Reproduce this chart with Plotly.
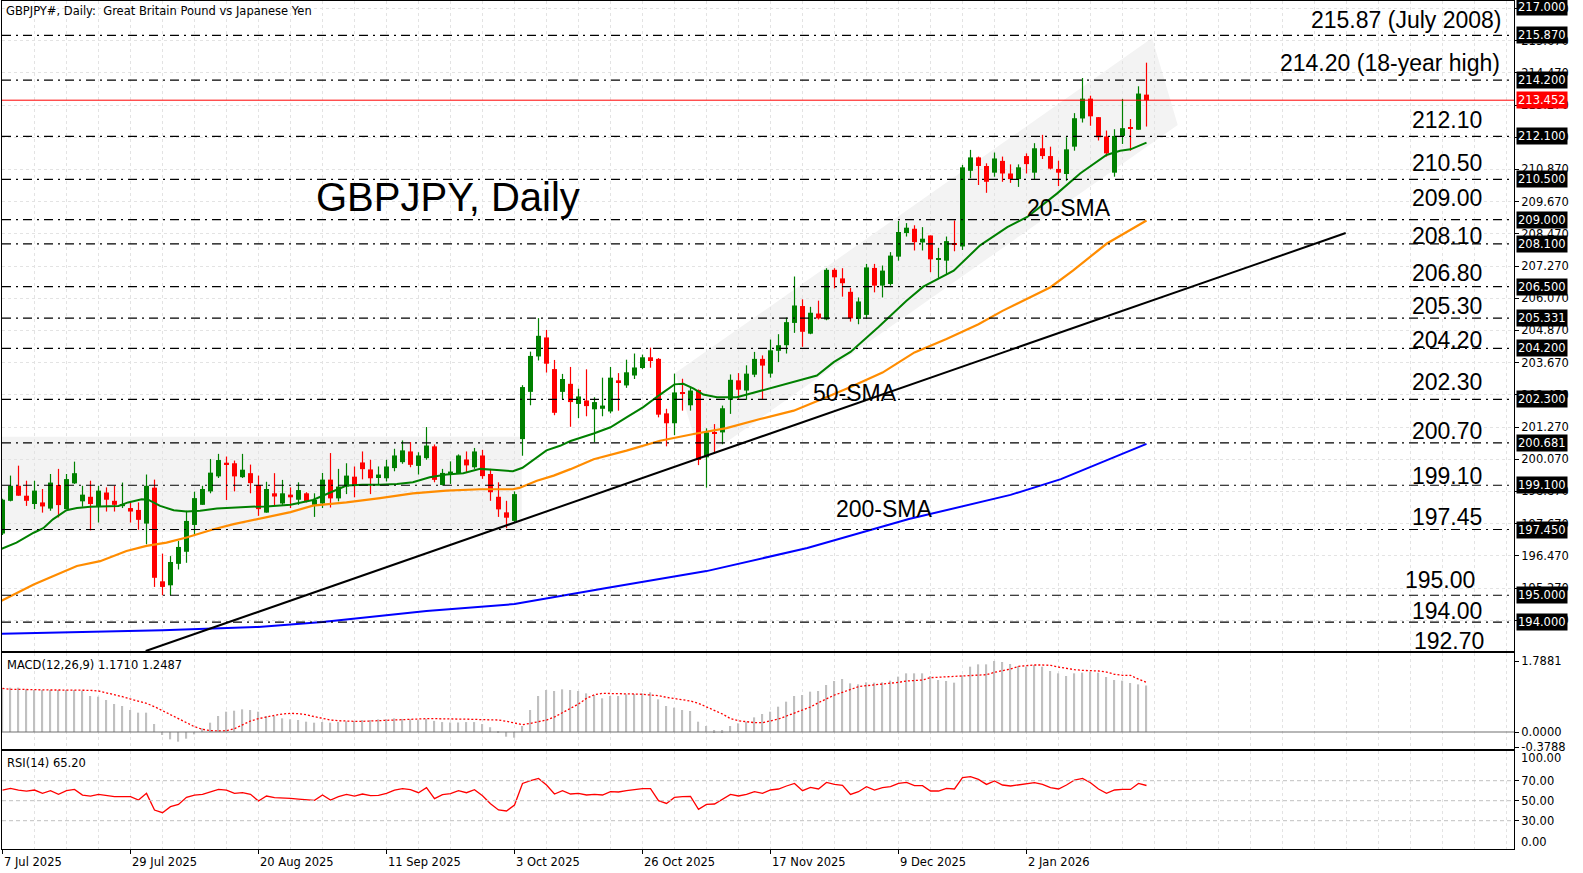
import plotly.graph_objects as go

# ---------------- data ----------------
date_labels = ["7 Jul 2025", "29 Jul 2025", "20 Aug 2025", "11 Sep 2025", "3 Oct 2025",
               "26 Oct 2025", "17 Nov 2025", "9 Dec 2025", "2 Jan 2026"]
date_label_bars = [0, 16, 32, 48, 64, 80, 96, 112, 128]

opens = [197.30, 198.52, 199.08, 198.71, 198.40, 198.46, 198.23, 199.11, 198.21, 199.17,
         198.50, 198.67, 198.30, 198.83, 198.52, 198.32, 198.25, 198.18, 197.67, 199.01,
         195.52, 195.37, 196.17, 196.62, 197.62, 198.37, 198.87, 199.43, 199.94, 199.92,
         199.40, 199.55, 199.11, 198.08, 198.80, 198.42, 198.75, 198.56, 198.80, 198.37,
         198.42, 199.31, 198.61, 199.05, 199.42, 199.95, 199.69, 199.37, 199.36, 199.74,
         199.96, 200.36, 199.82, 200.11, 200.55, 199.11, 199.52, 199.55, 200.06, 199.77,
         200.21, 199.52, 198.67, 198.09, 197.77, 200.82, 202.58, 203.90, 204.61, 203.43,
         202.58, 202.88, 202.13, 202.26, 201.93, 201.95, 201.85, 203.01, 202.82, 203.19,
         203.47, 203.87, 203.81, 201.78, 201.41, 202.56, 202.08, 202.65, 200.14, 201.08,
         201.07, 202.28, 203.01, 202.63, 203.22, 203.81, 203.26, 204.11, 204.32, 205.15,
         205.78, 204.75, 205.50, 205.28, 207.13, 206.81, 206.31, 205.30, 205.45, 207.20,
         206.54, 206.60, 207.62, 208.50, 208.66, 208.15, 208.41, 207.52, 207.47, 208.12,
         208.00, 210.82, 211.32, 211.00, 210.75, 211.19, 210.72, 210.51, 211.37, 210.75,
         211.66, 211.37, 210.89, 210.70, 211.72, 212.77, 213.51, 212.82, 212.10, 210.75,
         212.12, 212.41, 212.35, 213.66]
highs = [198.60, 199.46, 199.83, 199.27, 199.27, 198.96, 199.52, 199.71, 199.52, 199.98,
         199.08, 199.27, 199.08, 199.02, 199.08, 199.20, 198.46, 198.46, 199.50, 199.31,
         196.55, 196.46, 197.02, 198.15, 198.86, 199.08, 200.08, 200.27, 200.17, 200.02,
         200.27, 199.87, 199.46, 199.23, 199.55, 199.30, 199.02, 199.21, 198.84, 198.80,
         199.56, 200.30, 199.71, 199.92, 199.80, 200.36, 200.05, 199.80, 200.05, 200.46,
         200.77, 200.71, 200.33, 201.27, 200.62, 199.71, 199.99, 200.25, 200.36, 200.49,
         200.42, 199.71, 199.21, 198.52, 198.87, 202.83, 204.08, 205.33, 204.89, 203.77,
         203.25, 203.51, 202.70, 203.42, 202.38, 203.11, 203.51, 203.28, 203.78, 204.01,
         203.97, 204.23, 203.84, 201.95, 203.26, 203.07, 202.73, 202.67, 201.22, 201.38,
         202.07, 203.23, 203.28, 203.57, 204.07, 203.94, 204.53, 204.73, 205.35, 206.88,
         206.03, 205.75, 205.98, 207.19, 207.19, 207.19, 206.45, 206.10, 207.35, 207.35,
         207.29, 207.79, 208.95, 208.87, 208.79, 208.72, 208.41, 207.95, 208.37, 208.97,
         211.04, 211.60, 211.35, 211.10, 211.50, 211.35, 211.06, 211.06, 211.47, 211.85,
         212.16, 211.72, 211.20, 212.07, 212.97, 214.28, 213.62, 212.82, 212.32, 212.37,
         213.50, 212.75, 213.97, 214.85]
lows = [197.25, 198.50, 198.71, 198.33, 198.21, 198.08, 198.15, 197.90, 198.21, 199.15,
        198.30, 197.42, 197.71, 198.12, 198.12, 198.25, 197.71, 197.44, 196.90, 195.31,
        195.00, 195.00, 195.96, 196.21, 197.27, 198.37, 198.80, 199.37, 198.55, 198.87,
        199.37, 198.80, 197.96, 198.08, 198.33, 198.37, 198.25, 198.37, 198.46, 197.92,
        198.25, 198.27, 198.50, 198.77, 198.65, 199.32, 198.77, 199.11, 199.24, 199.62,
        199.90, 199.77, 199.50, 200.05, 199.21, 199.09, 199.15, 199.52, 199.59, 199.71,
        199.34, 198.52, 197.92, 197.50, 197.71, 200.20, 202.08, 203.75, 203.30, 201.71,
        202.30, 201.28, 201.60, 201.67, 200.70, 201.67, 201.78, 201.88, 202.73, 203.06,
        203.43, 203.48, 201.63, 200.55, 200.97, 201.88, 201.88, 199.85, 199.01, 200.31,
        200.63, 201.76, 202.28, 202.28, 203.13, 202.28, 203.11, 203.69, 204.01, 204.78,
        204.26, 204.73, 205.28, 205.25, 206.44, 206.13, 205.20, 205.10, 205.30, 206.29,
        206.10, 206.54, 207.47, 208.37, 207.85, 207.85, 207.04, 206.83, 206.97, 207.82,
        207.87, 210.54, 210.29, 210.00, 210.60, 210.41, 210.37, 210.22, 210.72, 210.50,
        211.26, 210.87, 210.25, 210.45, 211.57, 212.62, 212.50, 211.95, 211.35, 210.60,
        211.82, 211.57, 212.35, 212.47]
closes = [198.56, 199.08, 198.71, 198.52, 198.90, 198.31, 199.20, 198.36, 199.33, 199.55,
          198.75, 198.40, 198.90, 198.56, 198.37, 198.40, 198.12, 197.81, 199.08, 195.65,
          195.31, 196.24, 196.80, 197.77, 198.62, 198.96, 199.57, 200.04, 199.88, 199.43,
          199.68, 199.18, 198.21, 198.96, 198.68, 198.80, 198.65, 198.92, 198.50, 198.55,
          199.31, 198.61, 199.05, 199.46, 199.12, 199.70, 199.36, 199.50, 199.80, 200.21,
          200.40, 199.86, 200.21, 200.58, 199.30, 199.56, 199.61, 200.21, 199.84, 200.36,
          199.44, 198.84, 198.20, 197.89, 198.77, 202.76, 203.92, 204.67, 203.63, 201.80,
          203.06, 202.20, 202.41, 202.05, 202.20, 202.07, 203.11, 202.91, 203.31, 203.49,
          203.87, 203.73, 201.73, 201.41, 202.56, 202.51, 202.63, 200.04, 201.07, 201.03,
          201.97, 203.03, 202.66, 203.26, 203.81, 203.56, 204.13, 204.32, 205.18, 205.80,
          204.82, 205.53, 205.32, 207.13, 206.85, 206.63, 205.32, 205.95, 207.22, 206.54,
          207.10, 207.66, 208.54, 208.70, 208.16, 208.29, 207.52, 207.57, 208.20, 208.07,
          210.95, 211.32, 211.00, 210.41, 211.28, 210.72, 210.51, 210.95, 211.07, 211.66,
          211.37, 210.90, 210.75, 211.62, 212.78, 213.51, 212.85, 212.07, 211.47, 212.12,
          212.41, 212.38, 213.70, 213.452]

sma20_bars = [-0.3, 1.75, 3.9, 5.1, 6.3, 8, 9.3, 11, 14.5, 15.7, 17.4, 18.2, 19.7, 21.4, 23,
              24.7, 26.8, 28.9, 31, 33, 36, 38.8, 41, 43, 45, 47.2, 49.3, 51.3, 53.4, 55.5,
              57.6, 59.7, 61.8, 63.8, 65, 66.8, 68, 69.7, 71, 73.9, 76, 78, 80.1, 82.2, 84,
              85.1, 86.4, 87.6, 89.3, 91.8, 94.7, 98.9, 101.8, 103.9, 106, 109.5, 113, 115.1,
              118.9, 122.2, 125.6, 128.1, 131.8, 134.7, 138, 139.7, 141, 143]
sma20_vals = [196.71, 196.96, 197.33, 197.50, 197.83, 198.17, 198.25, 198.30, 198.33, 198.46,
              198.58, 198.56, 198.33, 198.17, 198.12, 198.15, 198.23, 198.27, 198.30, 198.31,
              198.37, 198.55, 198.84, 199.09, 199.12, 199.12, 199.15, 199.21, 199.40, 199.50,
              199.55, 199.71, 199.67, 199.62, 199.75, 200.15, 200.40, 200.57, 200.75, 201.03,
              201.26, 201.63, 202.01, 202.48, 202.86, 202.88, 202.70, 202.48, 202.38, 202.38,
              202.61, 202.94, 203.19, 203.69, 204.07, 205.00, 205.98, 206.50, 207.10, 208.04,
              208.72, 209.10, 209.97, 210.72, 211.41, 211.57, 211.62, 211.87]

sma50_bars = [-0.3, 3.9, 6.3, 9.3, 12.2, 15.5, 18, 20.5, 23, 26.4, 28.9, 32.2, 36, 38.8, 43,
              47.2, 51.3, 55.5, 59.7, 63.8, 64.6, 66.8, 68.9, 71, 73.9, 78, 82.2, 86.4, 90.5,
              94.7, 98.9, 103, 106, 110, 114, 118, 122, 125, 127.6, 131, 133.8, 138, 143]
sma50_vals = [194.77, 195.40, 195.71, 196.09, 196.27, 196.65, 196.84, 196.96, 197.15, 197.46,
              197.65, 197.87, 198.10, 198.34, 198.46, 198.62, 198.80, 198.90, 198.95, 198.95,
              199.00, 199.27, 199.46, 199.70, 200.07, 200.39, 200.76, 201.01, 201.23, 201.57,
              201.88, 202.38, 202.76, 203.30, 204.05, 204.55, 205.10, 205.60, 205.98, 206.48,
              207.10, 208.10, 208.97]

sma200_bars = [-0.3, 10, 20, 32, 40, 53, 64, 75.5, 88, 100.6, 113.3, 126, 132.3, 143]
sma200_vals = [193.56, 193.62, 193.70, 193.82, 194.00, 194.41, 194.67, 195.27, 195.90,
               196.76, 197.84, 198.74, 199.33, 200.64]

trend_bars = [17.9, 167.9]
trend_vals = [192.92, 208.50]

channel_bars = [84.1, 143.7, 146.9, 87.3]
channel_vals = [203.28, 215.77, 212.53, 200.04]

range_box_bars = [-1, 64.9]
range_box_vals = [197.37, 200.91]

levels = [215.87, 214.20, 212.10, 210.50, 209.00, 208.10, 206.50, 205.331, 204.20,
          202.30, 200.681, 199.10, 197.45, 195.00, 194.00]
level_box_text = ["215.870", "214.200", "212.100", "210.500", "209.000", "208.100", "206.500",
                  "205.331", "204.200", "202.300", "200.681", "199.100", "197.450", "195.000",
                  "194.000"]
last_price = 213.452
price_ticks = [216.87, 215.67, 214.47, 213.27, 212.07, 210.87, 209.67, 208.47, 207.27,
               206.07, 204.87, 203.67, 202.47, 201.27, 200.07, 198.87, 197.67, 196.47,
               195.27, 194.07]

level_labels = ["212.10", "210.50", "209.00", "208.10", "206.80", "205.30", "204.20",
                "202.30", "200.70", "199.10", "197.45", "195.00", "194.00", "192.70"]

macd_hist = [1.100, 1.117, 1.117, 1.075, 1.058, 1.058, 1.058, 1.058, 1.058, 1.058,
             1.041, 0.907, 0.890, 0.806, 0.705, 0.655, 0.554, 0.487, 0.487, 0.202,
             -0.076, -0.185, -0.243, -0.168, -0.059, 0.092, 0.235, 0.403, 0.512, 0.537,
             0.571, 0.554, 0.512, 0.403, 0.403, 0.344, 0.319, 0.302, 0.260, 0.235,
             0.252, 0.235, 0.252, 0.269, 0.277, 0.302, 0.302, 0.319, 0.327, 0.344,
             0.33, 0.32, 0.30, 0.33, 0.28, 0.25, 0.24, 0.24, 0.25, 0.25,
             0.20, 0.12, 0.02, -0.118, -0.143, 0.151, 0.554, 0.907, 1.058, 1.033,
             1.075, 1.058, 1.033, 0.974, 0.932, 0.848, 0.907, 0.907, 0.949, 0.957,
             0.974, 0.999, 0.823, 0.655, 0.613, 0.554, 0.529, 0.260, 0.151, 0.050,
             0.050, 0.151, 0.218, 0.260, 0.369, 0.453, 0.512, 0.638, 0.764, 0.907,
             0.932, 1.016, 1.033, 1.184, 1.285, 1.335, 1.226, 1.201, 1.251, 1.243,
             1.251, 1.293, 1.394, 1.478, 1.478, 1.478, 1.411, 1.310, 1.285, 1.243,
             1.427, 1.646, 1.704, 1.704, 1.788, 1.763, 1.713, 1.662, 1.646, 1.688,
             1.646, 1.537, 1.478, 1.411, 1.478, 1.495, 1.520, 1.495, 1.385, 1.310,
             1.293, 1.234, 1.200, 1.171]
macd_signal = [1.100, 1.075, 1.075, 1.066, 1.058, 1.058, 1.058, 1.058, 1.058, 1.058,
               1.058, 1.050, 1.033, 0.991, 0.949, 0.890, 0.831, 0.781, 0.722, 0.638,
               0.537, 0.428, 0.319, 0.235, 0.134, 0.067, 0.034, 0.025, 0.034, 0.084,
               0.176, 0.277, 0.336, 0.386, 0.420, 0.453, 0.470, 0.462, 0.437, 0.386,
               0.336, 0.302, 0.285, 0.269, 0.269, 0.269, 0.277, 0.285, 0.302, 0.319,
               0.319, 0.319, 0.327, 0.336, 0.336, 0.336, 0.336, 0.327, 0.319, 0.319,
               0.311, 0.302, 0.302, 0.269, 0.235, 0.185, 0.218, 0.252, 0.302, 0.378,
               0.487, 0.588, 0.705, 0.848, 0.940, 0.974, 0.974, 0.974, 0.974, 0.957,
               0.949, 0.932, 0.915, 0.873, 0.848, 0.823, 0.781, 0.722, 0.638, 0.554,
               0.453, 0.336, 0.285, 0.260, 0.235, 0.235, 0.277, 0.327, 0.403, 0.479,
               0.554, 0.630, 0.739, 0.831, 0.932, 0.999, 1.075, 1.142, 1.167, 1.184,
               1.209, 1.226, 1.251, 1.285, 1.293, 1.310, 1.369, 1.377, 1.385, 1.402,
               1.411, 1.427, 1.436, 1.444, 1.503, 1.545, 1.587, 1.654, 1.679, 1.688,
               1.688, 1.679, 1.637, 1.595, 1.570, 1.553, 1.553, 1.537, 1.511, 1.453,
               1.427, 1.427, 1.330, 1.2487]
rsi = [60.67, 62.33, 60.67, 59.67, 60.67, 57.33, 60.0, 56.33, 60.0, 61.33,
       55.67, 54.67, 56.33, 55.0, 54.0, 54.0, 54.0, 50.67, 57.33, 40.67,
       38.0, 44.0, 46.33, 53.33, 55.67, 56.33, 59.0, 61.33, 60.67, 57.33,
       58.0, 56.33, 49.67, 54.67, 53.0, 53.0, 52.33, 51.67, 50.67, 50.33,
       55.67, 50.67, 54.0, 56.33, 54.67, 56.67, 55.0, 55.33, 57.33, 60.67,
       62.0, 61.0, 58.0, 63.0, 52.0, 56.0, 57.0, 60.0, 58.0, 61.0,
       55.0, 47.0, 40.7, 39.7, 45.7, 67.3, 70.0, 72.3, 65.7, 56.7,
       60.0, 56.7, 57.3, 55.7, 56.3, 55.7, 59.0, 58.7, 60.0, 61.3,
       62.0, 62.0, 50.0, 47.3, 53.3, 54.0, 54.3, 41.3, 46.3, 46.7,
       51.3, 56.3, 54.7, 56.3, 59.0, 57.3, 60.7, 61.7, 64.7, 67.3,
       60.0, 63.3, 61.7, 68.3, 66.3, 65.3, 56.3, 59.0, 64.0, 60.7,
       63.0, 64.0, 67.3, 68.3, 65.0, 65.0, 59.7, 59.7, 62.3, 61.7,
       73.0, 74.0, 71.3, 66.3, 69.7, 65.7, 64.7, 65.7, 66.3, 68.0,
       66.3, 63.0, 61.7, 65.7, 70.7, 72.3, 68.0, 61.7, 57.3, 60.7,
       61.3, 61.3, 67.3, 65.2]

# ---------------- layout helpers ----------------
W, H = 1583, 873
PL, PR, PT, PB = 2, 1514, 1, 849          # plot-area pixel box


def px_x(px):
    return (px - PL) / (PR - PL)


def px_y(py):
    return (PB - py) / (PB - PT)


X_RANGE = [-0.0625, 188.9375]
MAIN_DOM = [px_y(651), 1.0]
MACD_DOM = [px_y(749), px_y(653)]
RSI_DOM = [0.0, px_y(751)]

GREEN = "#008000"
RED = "#ff0000"
GRID = "#e3e3e3"
MT_FONT = "DejaVu Sans"
AR_FONT = "Liberation Sans"

n = len(closes)
idx = list(range(n))

fig = go.Figure()

# candle wicks
for col, cond in ((GREEN, True), (RED, False)):
    wx, wy = [], []
    for i in idx:
        if (closes[i] >= opens[i]) == cond:
            wx += [i, i, None]
            wy += [lows[i], highs[i], None]
    fig.add_trace(go.Scatter(x=wx, y=wy, mode="lines", line=dict(color=col, width=1.2),
                             hoverinfo="skip", xaxis="x", yaxis="y"))

# candle bodies
fig.add_trace(go.Bar(
    x=idx,
    base=[min(o, c) for o, c in zip(opens, closes)],
    y=[max(abs(c - o), 0.045) for o, c in zip(opens, closes)],
    width=0.62,
    marker=dict(color=[GREEN if c >= o else RED for o, c in zip(opens, closes)], line=dict(width=0)),
    xaxis="x", yaxis="y"))

# moving averages + trendline
fig.add_trace(go.Scatter(x=sma200_bars, y=sma200_vals, mode="lines",
                         line=dict(color="#0000ff", width=2), xaxis="x", yaxis="y"))
fig.add_trace(go.Scatter(x=sma50_bars, y=sma50_vals, mode="lines",
                         line=dict(color="#ff8c00", width=2.2), xaxis="x", yaxis="y"))
fig.add_trace(go.Scatter(x=sma20_bars, y=sma20_vals, mode="lines",
                         line=dict(color=GREEN, width=2), xaxis="x", yaxis="y"))
fig.add_trace(go.Scatter(x=trend_bars, y=trend_vals, mode="lines",
                         line=dict(color="#000000", width=2), xaxis="x", yaxis="y"))

# MACD
fig.add_trace(go.Bar(x=idx, y=macd_hist, width=0.16, marker=dict(color="#c0c0c0", line=dict(width=0)),
                     xaxis="x2", yaxis="y2"))
fig.add_trace(go.Scatter(x=idx, y=macd_signal, mode="lines",
                         line=dict(color=RED, width=1.3, dash="2px,2px"), xaxis="x2", yaxis="y2"))

# RSI
fig.add_trace(go.Scatter(x=idx, y=rsi, mode="lines", line=dict(color=RED, width=1.3),
                         xaxis="x3", yaxis="y3"))

shapes = []
# shaded channel and range box
path = "M " + " L ".join(f"{b},{v}" for b, v in zip(channel_bars, channel_vals)) + " Z"
shapes.append(dict(type="path", path=path, xref="x", yref="y", fillcolor="#f3f3f3",
                   line=dict(width=0), layer="below"))
shapes.append(dict(type="rect", xref="x", yref="y", x0=range_box_bars[0], x1=range_box_bars[1],
                   y0=range_box_vals[0], y1=range_box_vals[1], fillcolor="#f3f3f3",
                   line=dict(width=0), layer="below"))
# horizontal levels
for lv in levels:
    shapes.append(dict(type="line", xref="paper", yref="y", x0=0, x1=1, y0=lv, y1=lv,
                       line=dict(color="#000000", width=1.2, dash="9px,5px,2px,5px")))
shapes.append(dict(type="line", xref="paper", yref="y", x0=0, x1=1, y0=last_price, y1=last_price,
                   line=dict(color=RED, width=1)))
# MACD zero line
shapes.append(dict(type="line", xref="paper", yref="y2", x0=0, x1=1, y0=0, y1=0,
                   line=dict(color="#707070", width=1.2)))
# RSI levels
for lv in (70, 50, 30):
    shapes.append(dict(type="line", xref="paper", yref="y3", x0=0, x1=1, y0=lv, y1=lv,
                       line=dict(color="#c0c0c0", width=1, dash="4px,3px")))

ann = []


def text_ann(text, px, py, size, anchor="left", font=AR_FONT, color="#000000"):
    ann.append(dict(text=text, xref="paper", yref="paper", x=px_x(px), y=px_y(py),
                    xanchor=anchor, yanchor="middle", showarrow=False,
                    font=dict(family=font, size=size, color=color)))


text_ann("GBPJPY#, Daily:\u00a0\u00a0Great Britain Pound vs Japanese Yen", 4, 11, 11.5, font=MT_FONT)
text_ann("GBPJPY, Daily", 314, 197, 40)
text_ann("215.87 (July 2008)", 1504, 20, 23, anchor="right")
text_ann("214.20 (18-year high)", 1502, 63, 23, anchor="right")
label_px_y = [120, 163, 198, 236, 273, 306, 340, 382, 431, 476, 517, 580, 611, 641]
label_px_x = [1410, 1410, 1410, 1410, 1410, 1410, 1410, 1410, 1410, 1410, 1410, 1403, 1410, 1412]
for t, xx, yy in zip(level_labels, label_px_x, label_px_y):
    text_ann(t, xx, yy, 23)
text_ann("20-SMA", 1025, 208, 23)
text_ann("50-SMA", 811, 393, 23)
text_ann("200-SMA", 834, 509, 23)
text_ann("MACD(12,26,9) 1.1710 1.2487", 5, 665, 11.5, font=MT_FONT)
text_ann("RSI(14) 65.20", 5, 763, 11.5, font=MT_FONT)
text_ann("100.00", 1519, 758, 11.5, font=MT_FONT)
text_ann("0.00", 1519, 842, 11.5, font=MT_FONT)

# x labels
for b, t in zip(date_label_bars, date_labels):
    ann.append(dict(text=t, xref="x3", yref="paper", x=b, y=px_y(862), xanchor="left",
                    yanchor="middle", xshift=-1, showarrow=False,
                    font=dict(family=MT_FONT, size=11.5, color="#000000")))

# right-axis price boxes
for lv, t in zip([217.0] + levels, ["217.000"] + level_box_text):
    ann.append(dict(text=t, xref="paper", yref="y", x=1, y=lv, xanchor="left", yanchor="middle",
                    xshift=2, yshift=(-2 if t == "217.000" else 0), showarrow=False,
                    bgcolor="#000000", borderpad=1,
                    font=dict(family=MT_FONT, size=11.5, color="#ffffff")))
ann.append(dict(text=f"{last_price:.3f}", xref="paper", yref="y", x=1, y=last_price, xanchor="left",
                yanchor="middle", xshift=2, showarrow=False, bgcolor=RED, borderpad=1,
                font=dict(family=MT_FONT, size=11.5, color="#ffffff")))

xcommon = dict(range=X_RANGE, showgrid=True, gridcolor=GRID, griddash="3px,3px", gridwidth=1,
               tickvals=date_label_bars, showticklabels=False, zeroline=False,
               minor=dict(dtick=4, tick0=0, showgrid=True, gridcolor=GRID, griddash="3px,3px"),
               showline=True, linecolor="#000000", linewidth=1, mirror=True)
ycommon = dict(side="right", showline=True, linecolor="#000000", linewidth=1, mirror=True,
               ticks="outside", ticklen=4, tickcolor="#000000", zeroline=False,
               tickfont=dict(family=MT_FONT, size=11.5, color="#000000"))

fig.update_layout(
    width=W, height=H,
    margin=dict(l=PL, r=W - PR, t=PT, b=H - PB),
    paper_bgcolor="#ffffff", plot_bgcolor="#ffffff",
    showlegend=False, barmode="overlay",
    xaxis=dict(**xcommon, anchor="y"),
    xaxis2=dict(**xcommon, anchor="y2", matches="x"),
    xaxis3=dict(**{**xcommon, "ticks": "outside", "ticklen": 4, "tickcolor": "#000000"},
                anchor="y3", matches="x"),
    yaxis=dict(**ycommon, domain=MAIN_DOM, range=[192.922, 217.149], tickvals=price_ticks,
               ticktext=[f"{v:.3f}" for v in price_ticks], showgrid=True, gridcolor=GRID,
               griddash="3px,3px"),
    yaxis2=dict(**ycommon, domain=MACD_DOM, range=[-0.428, 1.99], tickvals=[1.7881, 0, -0.3788],
                ticktext=["1.7881", "0.0000", "-0.3788"], showgrid=False),
    yaxis3=dict(**ycommon, domain=RSI_DOM, range=[1.7, 99.7], tickvals=[70, 50, 30],
                ticktext=["70.00", "50.00", "30.00"], showgrid=False),
    shapes=shapes, annotations=ann,
)

fig.write_html("out.html")
